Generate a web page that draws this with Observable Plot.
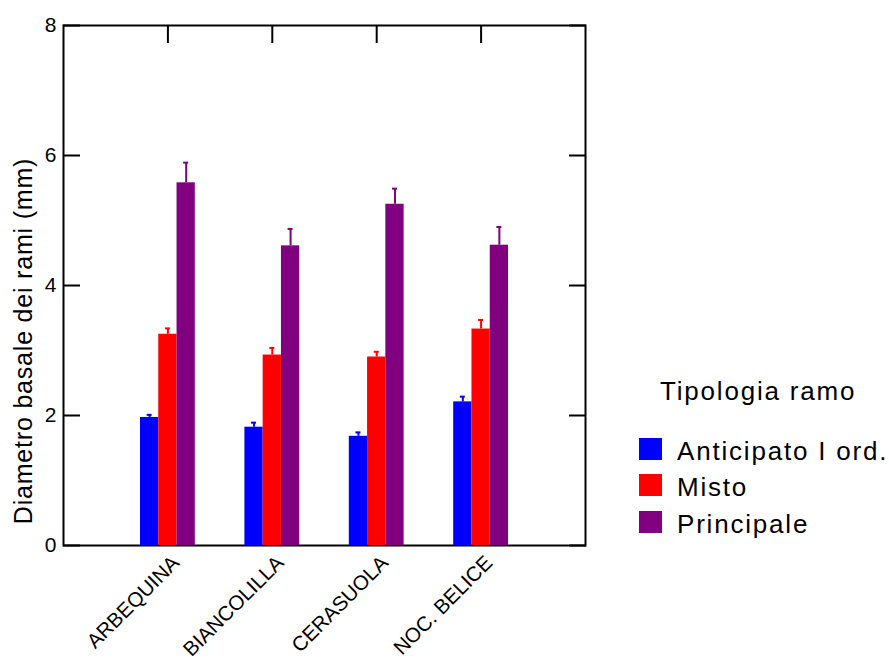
<!DOCTYPE html>
<html>
<head>
<meta charset="utf-8">
<script src="https://cdn.jsdelivr.net/npm/d3@7"></script>
<script src="https://cdn.jsdelivr.net/npm/@observablehq/plot@0.6"></script>
<style>
  html, body { margin: 0; padding: 0; background: #fff; }
  #wrap { position: relative; width: 889px; height: 659px; font-family: "Liberation Sans", Arial, sans-serif; }
  #legend { position: absolute; left: 639px; top: 378px; color: #000; font-size: 26px; line-height: 26px; letter-spacing: 1.8px; }
  #legend .title { padding-left: 21px; margin-bottom: 34px; height: 26px; white-space: nowrap; }
  #legend .row { display: flex; align-items: flex-start; height: 36.3px; white-space: nowrap; }
  #legend .sw { width: 23px; height: 22px; margin-right: 15px; flex: none; }
</style>
</head>
<body>
<div id="wrap"></div>
<script>
const categories = ["ARBEQUINA", "BIANCOLILLA", "CERASUOLA", "NOC. BELICE"];
const series = ["Anticipato I ord.", "Misto", "Principale"];
const colors = ["#0000ff", "#ff0000", "#800080"];
const anticipato = [1.97, 1.82, 1.68, 2.21];
const anticipatoErr = [0.04, 0.07, 0.06, 0.08];
const misto = [3.25, 2.93, 2.90, 3.33];
const mistoErr = [0.09, 0.11, 0.08, 0.14];
const principale = [5.58, 4.61, 5.25, 4.62];
const principaleErr = [0.31, 0.26, 0.24, 0.28];
const yTicks = [0, 2, 4, 6, 8];
const yTitle = "Diametro basale dei rami (mm)";
const legendTitle = "Tipologia ramo";

const values = [anticipato, misto, principale];
const errors = [anticipatoErr, mistoErr, principaleErr];
const bw = 0.175;   // bar width in category units
const capHalf = 0.024;
const rows = [];
series.forEach((s, j) => {
  categories.forEach((c, i) => {
    const xc = i + (j - 1) * bw;
    rows.push({cat: c, series: s, value: values[j][i], err: errors[j][i],
      x1: xc - bw / 2, x2: xc + bw / 2, xc, c1: xc - capHalf, c2: xc + capHalf});
  });
});
const catIdx = categories.map((c, i) => i);

const chart = Plot.plot({
  width: 889,
  height: 659,
  marginLeft: 63,
  marginRight: 304,
  marginTop: 25,
  marginBottom: 114,
  style: {fontFamily: "'Liberation Sans', Arial, sans-serif", fontSize: "20px", color: "#000", background: "#fff"},
  x: {domain: [-1, 4], axis: null},
  y: {domain: [0, 8], axis: null},
  color: {domain: series, range: colors},
  marks: [
    Plot.frame({stroke: "#000", strokeWidth: 2}),
    Plot.axisY({anchor: "left", ticks: yTicks, tickSize: 0, tickPadding: 7, fontSize: 21, label: null}),
    Plot.axisY({anchor: "left", ticks: yTicks, tickSize: -17, strokeWidth: 2, tickFormat: () => "", label: null}),
    Plot.axisY({anchor: "right", ticks: yTicks, tickSize: -17, strokeWidth: 2, tickFormat: () => "", label: null}),
    Plot.axisX({anchor: "top", ticks: catIdx, tickSize: -17, strokeWidth: 2, tickFormat: () => "", label: null}),
    Plot.axisX({anchor: "bottom", ticks: catIdx, tickSize: 0, tickPadding: 14, dx: 8, tickRotate: -45, fontSize: 20.5, tickFormat: i => categories[i], label: null}),
    Plot.rectY(rows, {x1: "x1", x2: "x2", y1: 0, y2: "value", fill: "series"}),
    Plot.ruleX(rows, {x: "xc", y1: "value", y2: d => d.value + d.err, stroke: "series", strokeWidth: 2}),
    Plot.ruleY(rows, {x1: "c1", x2: "c2", y: d => d.value + d.err, stroke: "series", strokeWidth: 2}),
    Plot.text([yTitle], {frameAnchor: "left", textAnchor: "middle", rotate: -90, dx: -40, dy: 55.5, fontSize: 25, fill: "#000"})
  ]
});

const wrap = document.getElementById("wrap");
wrap.appendChild(chart);
// letter spacing for the y title (matches reference's wider set text)
d3.select(chart).selectAll("text").filter(function() { return this.textContent === yTitle; }).style("letter-spacing", "0.8px");

const legend = document.createElement("div");
legend.id = "legend";
const t = document.createElement("div");
t.className = "title";
t.textContent = legendTitle;
legend.appendChild(t);
series.forEach((s, j) => {
  const r = document.createElement("div");
  r.className = "row";
  const sw = document.createElement("span");
  sw.className = "sw";
  sw.style.background = colors[j];
  const lab = document.createElement("span");
  lab.textContent = s;
  r.appendChild(sw);
  r.appendChild(lab);
  legend.appendChild(r);
});
wrap.appendChild(legend);
</script>
</body>
</html>
